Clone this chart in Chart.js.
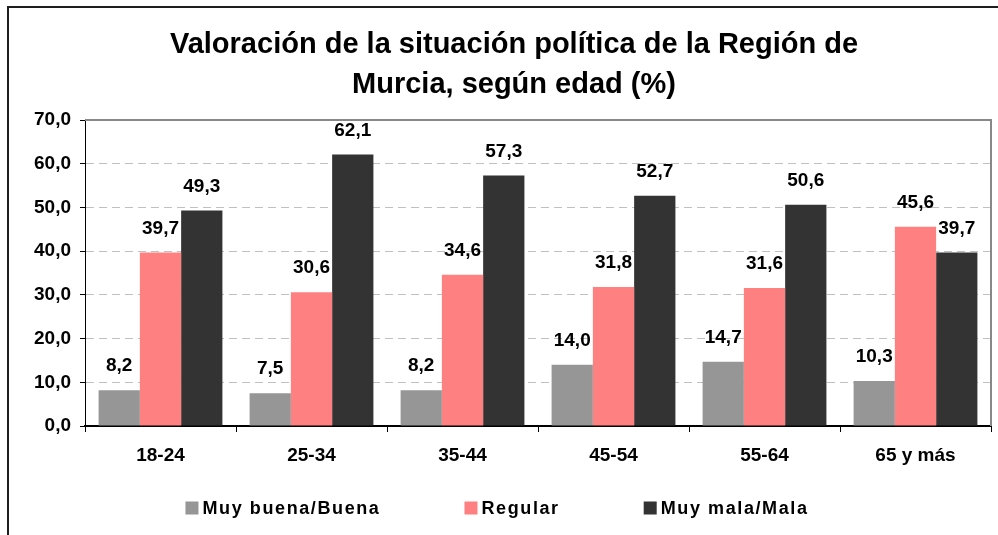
<!DOCTYPE html>
<html>
<head>
<meta charset="utf-8">
<script src="https://cdn.jsdelivr.net/npm/chart.js@4.4.1/dist/chart.umd.min.js"></script>
<style>
html,body{margin:0;padding:0;background:#fff;}
#wrap{width:998px;height:535px;position:relative;}
</style>
</head>
<body>
<div id="wrap"><canvas id="c" width="998" height="535"></canvas></div>
<script>
const titleLines = ["Valoración de la situación política de la Región de", "Murcia, según edad (%)"];
const categories = ["18-24", "25-34", "35-44", "45-54", "55-64", "65 y más"];
const seriesNames = ["Muy buena/Buena", "Regular", "Muy mala/Mala"];
const buenaValues = [8.2, 7.5, 8.2, 14.0, 14.7, 10.3];
const regularValues = [39.7, 30.6, 34.6, 31.8, 31.6, 45.6];
const malaValues = [49.3, 62.1, 57.3, 52.7, 50.6, 39.7];
const yTickLabels = ["0,0", "10,0", "20,0", "30,0", "40,0", "50,0", "60,0", "70,0"];
const colors = ["#969696", "#FF8080", "#333333"];

const FONT = "'Liberation Sans', Arial, Helvetica, sans-serif";
Chart.defaults.font.family = FONT;
Chart.defaults.color = "#000";

const fmt = v => v.toFixed(1).replace('.', ',');

const framePlugin = {
  id: 'frame',
  afterLayout(chart) {
    // let the y tick labels extend left of the axis box without clipping
    chart.scales.y._computeLabelArea = () => undefined;
  },
  beforeDraw(chart) {
    const ctx = chart.ctx;
    ctx.save();
    ctx.fillStyle = '#fff';
    ctx.fillRect(0, 0, chart.width, chart.height);
    ctx.strokeStyle = '#1e1e1e';
    ctx.lineWidth = 2;
    ctx.beginPath();
    ctx.moveTo(8, chart.height);
    ctx.lineTo(8, 7);
    ctx.lineTo(chart.width, 7);
    ctx.stroke();
    ctx.restore();
  },
  beforeDatasetsDraw(chart) {
    const a = chart.chartArea;
    const ctx = chart.ctx;
    ctx.save();
    ctx.strokeStyle = '#888888';
    ctx.lineWidth = 2;
    ctx.beginPath();
    ctx.moveTo(a.left, a.top);
    ctx.lineTo(a.right, a.top);
    ctx.lineTo(a.right, a.bottom);
    ctx.stroke();
    ctx.restore();
  },
  afterDatasetsDraw(chart) {
    const ctx = chart.ctx;
    ctx.save();
    ctx.font = "bold 19px " + FONT;
    ctx.fillStyle = '#000';
    ctx.textAlign = 'center';
    ctx.textBaseline = 'middle';
    chart.data.datasets.forEach((ds, i) => {
      const meta = chart.getDatasetMeta(i);
      meta.data.forEach((bar, j) => {
        ctx.fillText(fmt(ds.data[j]), bar.x, bar.y - 24);
      });
    });
    ctx.restore();
  },
  afterDraw(chart) {
    // legend
    const ctx = chart.ctx;
    ctx.save();
    ctx.font = "bold 18px " + FONT;
    try { ctx.letterSpacing = '1.6px'; } catch (e) {}
    ctx.textBaseline = 'middle';
    ctx.textAlign = 'left';
    const box = 13, gapBT = 4, gapItems = 84, cy = 508;
    const items = chart.data.datasets.map(ds => ({label: ds.label, color: ds.backgroundColor, w: box + gapBT + ctx.measureText(ds.label).width}));
    const total = items.reduce((s, it) => s + it.w, 0) + gapItems * (items.length - 1);
    let x = 497 - total / 2;
    items.forEach(it => {
      ctx.fillStyle = it.color;
      ctx.fillRect(x, cy - box / 2, box, box);
      ctx.fillStyle = '#000';
      ctx.fillText(it.label, x + box + gapBT, cy + 1);
      x += it.w + gapItems;
    });
    ctx.restore();
  }
};

new Chart(document.getElementById('c'), {
  type: 'bar',
  data: {
    labels: categories,
    datasets: [
      { label: seriesNames[0], data: buenaValues, backgroundColor: colors[0] },
      { label: seriesNames[1], data: regularValues, backgroundColor: colors[1] },
      { label: seriesNames[2], data: malaValues, backgroundColor: colors[2] }
    ]
  },
  options: {
    responsive: false,
    animation: false,
    devicePixelRatio: 1,
    layout: { padding: { left: 37, right: 7, top: 7, bottom: 59 } },
    datasets: { bar: { categoryPercentage: 0.82, barPercentage: 1.0, borderWidth: 0 } },
    plugins: {
      legend: { display: false },
      tooltip: { enabled: false },
      title: {
        display: true,
        text: titleLines,
        color: '#000',
        font: { size: 29, weight: 'bold', family: FONT, lineHeight: 1.38 },
        padding: { top: 18, bottom: 15 }
      }
    },
    scales: {
      x: {
        grid: { drawOnChartArea: false, drawTicks: true, tickLength: 6, tickColor: '#000', offset: true },
        border: { display: true, color: '#000', width: 2 },
        ticks: { font: { size: 19, weight: 'bold' }, color: '#000', padding: 12, maxRotation: 0 },
        afterFit(scale) { scale.height = 50; }
      },
      y: {
        min: 0, max: 70,
        ticks: { stepSize: 10, font: { size: 19, weight: 'bold' }, color: '#000', padding: 9,
          callback: (v, i) => yTickLabels[i] },
        grid: {
          color: ctx => (ctx.tick && (ctx.tick.value === 0 || ctx.tick.value === 70)) ? 'rgba(0,0,0,0)' : '#c0c0c0',
          lineWidth: 1, tickLength: 5, tickColor: '#000'
        },
        border: { display: true, color: '#000', width: 1, dash: [8, 5] },
        afterFit(scale) { scale.width = 48; }
      }
    }
  },
  plugins: [framePlugin]
});
</script>
</body>
</html>
